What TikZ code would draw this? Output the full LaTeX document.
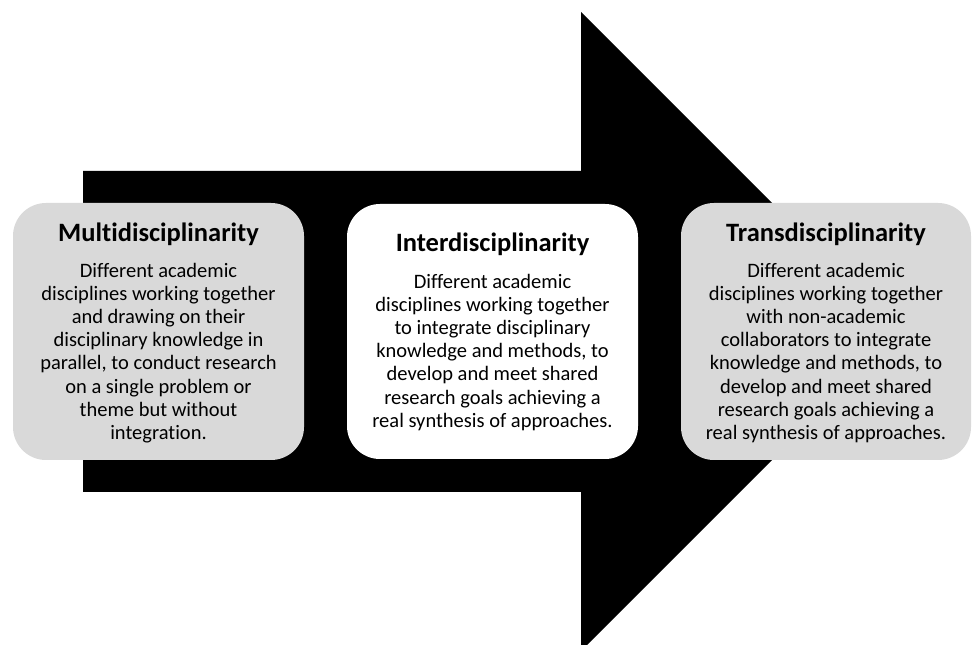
\documentclass[tikz,border=0pt]{standalone}
\usepackage{fontspec}
\setmainfont[Ligatures=NoCommon]{Carlito}
\definecolor{boxgray}{HTML}{D9D9D9}
\begin{document}
\begin{tikzpicture}[x=1pt,y=1pt,
  boxstyle/.style={rounded corners=33pt,draw=none},
  titlestyle/.style={anchor=base,inner sep=0pt,font=\fontsize{26.5}{30}\selectfont\bfseries},
  bodystyle/.style={anchor=north,inner sep=0pt,align=center,font=\fontsize{20.5}{23.2}\selectfont}]
\useasboundingbox (0,0) rectangle (972,645);
\clip (0,0) rectangle (972,645);
% big arrow
\fill[black] (83,474) -- (581,474) -- (581,633) -- (900.5,313.5) -- (581,-6) -- (581,153) -- (83,153) -- cycle;
% boxes
\fill[boxgray,boxstyle] (13,185) rectangle (304,442);
\fill[white,boxstyle] (347,186) rectangle (638,441);
\fill[boxgray,boxstyle] (681,185) rectangle (971,442);
% texts
\node[titlestyle] (t1) at (158.5,403.5) {Multidisciplinarity};
\node[bodystyle] (d1) at (158.5,385) {\rule{0pt}{17pt}Different academic\\disciplines working together\\and drawing on their\\disciplinary knowledge in\\parallel, to conduct research\\on a single problem or\\theme but without\\integration.};
\node[titlestyle] (t2) at (492.5,393) {Interdisciplinarity};
\node[bodystyle] (d2) at (492.5,374) {\rule{0pt}{17pt}Different academic\\disciplines working together\\to integrate disciplinary\\knowledge and methods, to\\develop and meet shared\\research goals achieving a\\real synthesis of approaches.};
\node[titlestyle] (t3) at (826,403.5) {Transdisciplinarity};
\node[bodystyle] (d3) at (826,385) {\rule{0pt}{17pt}Different academic\\disciplines working together\\with non-academic\\collaborators to integrate\\knowledge and methods, to\\develop and meet shared\\research goals achieving a\\real synthesis of approaches.};
\end{tikzpicture}
\end{document}
